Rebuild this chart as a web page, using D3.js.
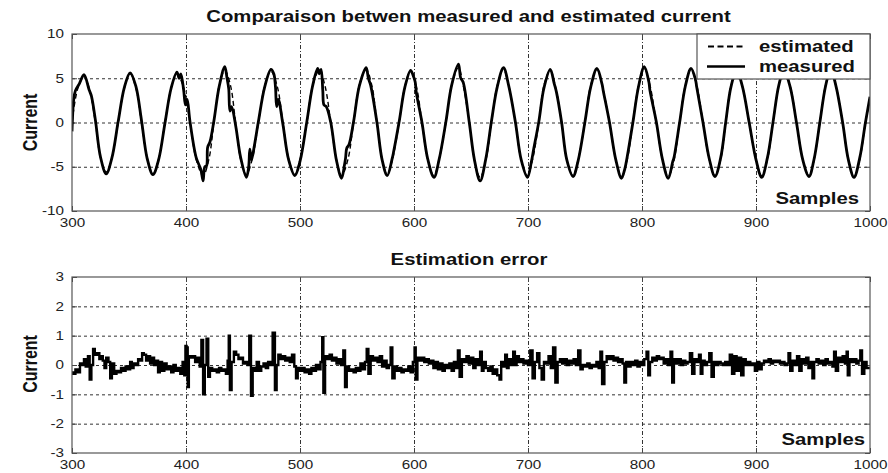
<!DOCTYPE html>
<html><head><meta charset="utf-8">
<script src="https://cdn.jsdelivr.net/npm/d3@7"></script>
<style>body{margin:0;background:#fff}svg{display:block}</style>
</head><body><svg id="c" width="888" height="473"></svg>
<script>
// ---------- DATA ----------
const xTicks = [300, 400, 500, 600, 700, 800, 900, 1000];
const yTicksTop = [-10, -5, 0, 5, 10];
const yTicksBottom = [-3, -2, -1, 0, 1, 2, 3];
const titleTop = "Comparaison betwen measured and estimated current";
const titleBottom = "Estimation error";
const yLabel = "Current";
const xLabel = "Samples";
const legendLabels = ["estimated", "measured"];

// [sample, current]
const estimated = [[300,0.0],[305,3.8],[310.5,5.2],[315,3.9],[320.5,0],[325,-4.0],[330,-5.6],[335,-4.0],[340.5,0],[346,3.9],[351,5.5],[356,3.9],[361,0],[366,-4.0],[371,-5.8],[376,-4.1],[381.5,0],[387,3.9],[392,5.5],[398,3.9],[403.5,0],[409,-4.2],[415,-6.0],[420,-4.2],[424.5,0],[429,4.1],[434,5.9],[439,4.2],[443.5,0],[448,-4.2],[453,-5.9],[458,-4.2],[463.5,0],[469,4.1],[474.5,5.8],[480,4.1],[485,0],[490,-4.1],[495.5,-5.9],[500,-4.2],[506,0],[511,4.1],[517,5.9],[522,4.1],[527,0],[532,-4.2],[536.5,-6.0],[542,-4.2],[547,0],[552,4.2],[558,6.0],[563,4.2],[567.5,0],[572,-4.1],[576.5,-5.9],[581,-4.2],[587,0],[592,4.1],[597,5.8],[602,4.1],[607,0],[612,-4.2],[617.5,-6.0],[622,-4.2],[628,0],[633,4.2],[639,6.2],[643,4.3],[648.5,0],[653,-4.3],[658,-6.2],[663,-4.3],[668,0],[673,4.2],[678.5,6.0],[683,4.2],[689,0],[694,-4.2],[699.5,-6.0],[704,-4.2],[709.5,0],[714,4.2],[719.5,5.9],[724,4.1],[729.5,0],[734,-4.2],[739.5,-6.0],[744,-4.2],[750,0],[755,4.2],[760.5,6.0],[765,4.2],[771.5,0],[777,-4.2],[782,-6.1],[787,-4.2],[792,0],[797,4.2],[802,6.1],[807,4.2],[812.5,0],[818,-4.2],[823,-6.1],[828,-4.3],[833,0],[838,4.2],[843,6.0],[848,4.2],[853.5,0],[859,-4.2],[864,-6.0],[869,-4.2],[873.5,0],[878,4.1],[883,5.8],[888,4.1],[894,0],[900,-4.2],[905,-6.0],[910,-4.2],[915,0],[920,4.2],[924.5,5.9],[930,4.1],[935.5,0],[941,-4.2],[946.5,-6.0],[951,-4.2],[956,0],[961,4.2],[965.5,5.9],[970,4.2],[976,0],[981,-4.2],[986,-6.1],[991,-4.2],[996,0],[1000,2.6]];

const measured = [[300,-1.0],[301.5,2.6],[303,3.6],[306.5,4.4],[310.5,5.4],[315,3.7],[317,3.0],[320.5,0.3],[325,-3.9],[330,-5.8],[335,-4.0],[340.5,0.1],[346,4.0],[351,5.6],[356,4.1],[361,0.2],[366,-4.1],[371,-5.9],[376,-4.2],[381.5,-0.1],[387,3.9],[392,5.7],[394,5.0],[395.5,5.5],[398,3.6],[399.5,2.0],[401,2.6],[403.5,0.1],[409,-4.0],[413,-5.3],[415,-6.6],[416.5,-5.0],[418,-4.9],[419,-2.8],[421,-2.2],[424.5,0.2],[429,4.0],[434,6.3],[436,5.0],[437.5,3.8],[438.5,1.3],[440,1.8],[443.5,-0.3],[448,-4.0],[453,-6.2],[455,-5.0],[456,-3.0],[457.5,-4.2],[460,-2.6],[463.5,0.1],[469,4.0],[474.5,6.0],[477,5.5],[478.5,4.0],[479.5,1.8],[481,2.6],[485,-0.2],[490,-4.2],[495.5,-6.0],[500,-4.4],[506,0.1],[511,4.1],[515.5,6.1],[517,5.5],[518.5,6.0],[520,3.6],[521,2.0],[523,1.8],[527,0.0],[532,-4.3],[536.5,-6.3],[539,-4.8],[540,-4.0],[541,-2.9],[543,-2.5],[547,0.1],[552,4.1],[558,6.2],[560,5.0],[562,4.2],[567.5,0.0],[572,-4.2],[576.5,-6.0],[581,-4.0],[582,-3.4],[587,0.1],[592,4.0],[597,5.9],[599,5.4],[601,4.6],[602,3.4],[607,0.0],[612,-4.1],[617.5,-6.2],[622,-4.2],[628,0.1],[633,4.2],[639,6.6],[641,5.0],[643,4.6],[648.5,0.0],[653,-4.2],[658,-6.6],[663,-4.1],[668,0.2],[673,4.0],[678.5,6.2],[683,4.2],[689,0.0],[694,-4.2],[699.5,-6.2],[703,-4.4],[705,-3.0],[709.5,0.1],[714,3.9],[719.5,6.0],[723,4.4],[725,3.4],[729.5,0.0],[734,-4.2],[739.5,-6.1],[744,-4.3],[750,0.1],[755,4.0],[760.5,6.1],[765,4.3],[766,3.6],[771.5,0.0],[777,-4.2],[782,-6.3],[785,-5.2],[787,-3.9],[792,0.0],[797,4.1],[802,6.3],[806,4.6],[807,3.6],[812.5,0.1],[818,-4.2],[823,-6.3],[827,-4.4],[828,-4.0],[833,0.0],[838,4.1],[843,6.1],[847,4.8],[848,4.0],[853.5,0.0],[859,-4.1],[864,-6.1],[869,-4.0],[873.5,0.1],[878,4.0],[883,5.9],[888,4.1],[894,0.0],[900,-4.2],[905,-6.2],[910,-4.0],[915,0.1],[920,4.2],[924.5,5.9],[930,4.0],[935.5,0.0],[941,-4.2],[946.5,-6.1],[951,-4.1],[956,0.0],[961,4.1],[965.5,6.0],[970,4.2],[976,0.0],[981,-4.2],[986,-6.2],[991,-4.0],[996,0.0],[1000,2.9]];

const estimationError = [[300,-0.25],[302,-0.3],[304,-0.15],[306,-0.25],[308,0.05],[310,0.0],[311,0.2],[313,-0.05],[315,0.3],[316,-0.5],[318,0.0],[319,0.55],[321,0.35],[323,0.4],[325,0.2],[326,0.3],[328,0.15],[329,-0.1],[331,0.25],[333,0.1],[334,-0.45],[336,0.05],[338,-0.3],[340,-0.2],[342,-0.25],[344,-0.1],[346,-0.2],[348,-0.05],[350,-0.15],[352,0.1],[353,-0.1],[355,0.05],[357,0.0],[359,0.2],[361,0.15],[362,0.4],[364,0.35],[366,0.15],[368,0.3],[369,0.05],[371,0.25],[373,0.0],[375,0.15],[376,-0.25],[378,0.1],[380,-0.2],[382,0.05],[384,-0.15],[386,-0.05],[388,-0.25],[390,0.0],[392,-0.2],[394,-0.1],[396,-0.3],[398,0.1],[399,-0.35],[400,0.65],[401,0.6],[402,-0.75],[403,0.3],[405,0.25],[407,0.3],[409,0.1],[411,0.25],[413,-0.05],[414,0.85],[416,-1.0],[417,0.0],[419,0.9],[420,-0.4],[422,-0.1],[424,-0.2],[426,-0.15],[428,-0.25],[430,-0.1],[432,-0.2],[434,-0.15],[436,-0.3],[437,0.15],[438,1.0],[439,-0.85],[441,0.1],[443,0.45],[445,0.35],[447,0.2],[449,0.25],[451,0.05],[453,0.1],[455,0.0],[456,1.0],[458,-1.05],[459,-0.1],[461,-0.2],[463,0.1],[465,-0.2],[467,-0.05],[469,0.05],[471,-0.1],[473,0.1],[475,0.0],[477,1.1],[479,-0.85],[480,0.0],[482,0.35],[484,0.2],[486,0.3],[488,0.15],[490,0.25],[492,0.1],[494,0.35],[496,-0.05],[497,-0.45],[499,-0.1],[501,-0.2],[503,-0.1],[505,-0.25],[507,-0.15],[509,-0.3],[511,-0.1],[513,-0.2],[515,0.0],[517,-0.15],[519,0.1],[520,0.95],[521,-0.95],[523,0.3],[525,0.2],[527,0.35],[529,0.15],[531,0.25],[533,0.05],[535,0.2],[537,0.0],[539,0.5],[540,-0.75],[542,-0.05],[544,-0.2],[546,-0.15],[548,-0.25],[550,-0.1],[552,-0.2],[554,0.05],[556,-0.15],[558,0.1],[559,0.55],[561,-0.3],[563,0.3],[565,0.15],[567,0.25],[569,0.1],[571,0.3],[573,-0.05],[575,0.15],[577,-0.1],[579,0.0],[580,0.6],[582,-0.45],[584,-0.05],[586,-0.2],[588,-0.1],[590,-0.25],[592,-0.15],[594,-0.2],[596,-0.05],[598,-0.25],[600,0.1],[601,0.6],[602,-0.5],[604,0.25],[606,0.15],[608,0.25],[610,0.1],[612,0.2],[614,0.05],[616,0.15],[618,-0.1],[620,0.1],[622,-0.15],[624,0.05],[626,-0.2],[628,0.0],[630,-0.1],[632,0.05],[634,-0.2],[636,0.1],[638,-0.1],[639,0.5],[641,-0.4],[643,0.2],[645,0.1],[647,0.3],[649,0.05],[651,0.25],[653,-0.1],[655,0.2],[657,0.0],[659,0.45],[660,-0.2],[662,0.1],[664,-0.1],[666,-0.2],[668,-0.05],[670,-0.3],[672,-0.15],[674,-0.35],[676,-0.5],[677,0.1],[679,-0.05],[681,0.35],[682,-0.1],[684,0.2],[686,0.0],[688,0.45],[689,0.0],[691,0.3],[693,0.1],[695,0.2],[697,0.05],[699,0.15],[701,0.0],[703,0.5],[705,-0.45],[707,0.1],[709,0.4],[711,-0.1],[713,-0.5],[715,0.1],[717,0.05],[719,0.3],[721,-0.1],[723,0.6],[725,-0.6],[727,0.1],[729,0.2],[731,0.05],[733,0.2],[735,0.0],[737,0.15],[739,0.05],[741,0.2],[743,0.0],[745,0.5],[747,-0.15],[749,0.0],[751,-0.05],[753,0.05],[755,-0.1],[757,0.0],[759,-0.05],[761,0.1],[763,-0.1],[764,0.45],[766,-0.65],[768,0.1],[770,0.3],[772,0.2],[774,0.3],[776,0.15],[778,0.25],[780,0.1],[782,0.2],[784,0.05],[785,-0.6],[787,0.1],[789,-0.05],[791,0.1],[793,0.0],[795,0.15],[797,-0.05],[799,0.1],[801,0.0],[803,0.2],[805,0.45],[806,-0.35],[808,0.1],[810,0.25],[812,0.15],[814,0.3],[816,0.2],[818,0.25],[820,0.05],[822,0.2],[824,0.0],[826,0.45],[827,-0.6],[829,0.2],[831,0.05],[833,0.2],[835,0.0],[837,0.15],[839,0.05],[841,0.1],[843,0.4],[845,-0.3],[847,0.2],[849,0.1],[851,0.35],[852,-0.3],[854,0.15],[856,0.0],[858,0.1],[860,0.4],[862,-0.4],[864,0.1],[866,0.0],[868,0.1],[870,0.05],[872,0.0],[874,0.1],[876,0.0],[878,0.35],[880,-0.3],[882,0.3],[884,-0.2],[886,0.25],[888,-0.35],[890,0.2],[892,0.0],[894,0.1],[896,0.0],[898,0.05],[900,-0.2],[902,0.1],[904,-0.15],[906,0.05],[908,0.15],[910,0.1],[912,0.2],[914,0.05],[916,0.15],[918,0.1],[920,0.15],[922,0.05],[924,0.1],[926,0.0],[928,0.05],[929,0.4],[931,-0.2],[933,0.15],[935,0.0],[937,0.3],[939,-0.2],[941,0.2],[943,0.05],[945,0.25],[947,-0.1],[949,0.1],[950,-0.45],[952,0.1],[954,0.2],[956,0.05],[958,0.15],[960,0.0],[962,0.2],[964,0.05],[966,0.1],[968,-0.05],[969,0.45],[971,-0.2],[973,0.25],[975,0.1],[977,0.3],[979,0.05],[980,0.45],[981,-0.35],[983,0.2],[985,0.1],[987,0.2],[989,0.05],[991,0.15],[992,0.5],[994,-0.3],[996,0.1],[998,-0.1],[1000,-0.1]];

// ---------- DRAWING ----------
const svg = d3.select("#c");
const SX = 1.27; // horizontal stretch of the original picture's text
const FONT = "'Liberation Sans', Arial, Helvetica, sans-serif";
const L = 72, R = 870;
const x = d3.scaleLinear().domain([300, 1000]).range([L, R]);
const yTop = d3.scaleLinear().domain([-10, 10]).range([211, 34]);
const yBot = d3.scaleLinear().domain([-3, 3]).range([453, 277]);
const fmt = d => String(d); // plain hyphen minus, as in the original

svg.append("rect").attr("width", 888).attr("height", 473).attr("fill", "#fff");

function label(str, tx, ty, size, weight, anchor, rot) {
  return svg.append("text")
    .attr("transform", `translate(${tx},${ty}) scale(${SX},1)` + (rot ? ` rotate(${rot})` : ""))
    .attr("text-anchor", anchor).attr("font-size", size).attr("font-weight", weight)
    .attr("font-family", FONT).attr("fill", "#111").text(str);
}

function panel(y, yTicks, id) {
  const [yb, yt] = y.range();
  const W = R - L;
  const g = svg.append("g");
  g.append("clipPath").attr("id", id).append("rect")
    .attr("x", L).attr("y", yt).attr("width", W).attr("height", yb - yt);

  // horizontal grid
  const hg = g.append("g").attr("transform", `translate(${L},0)`)
    .call(d3.axisLeft(y).tickValues(yTicks.slice(1, -1)).tickSize(-W).tickFormat(""));
  hg.select(".domain").remove();
  hg.selectAll("line").attr("stroke", "#333").attr("stroke-dasharray", "3,3").attr("stroke-width", 1);
  // vertical grid
  const vg = g.append("g").attr("transform", `translate(0,${yb})`)
    .call(d3.axisBottom(x).tickValues(xTicks.slice(1, -1)).tickSize(-(yb - yt)).tickFormat(""));
  vg.select(".domain").remove();
  vg.selectAll("line").attr("stroke", "#333").attr("stroke-dasharray", "4,2,1,2").attr("stroke-width", 1);

  // axes with inward ticks and labels
  const ax = g.append("g").attr("transform", `translate(${L},0)`)
    .call(d3.axisLeft(y).tickValues(yTicks).tickSizeInner(-5).tickSizeOuter(0).tickPadding(8).tickFormat(fmt));
  const bx = g.append("g").attr("transform", `translate(0,${yb})`)
    .call(d3.axisBottom(x).tickValues(xTicks).tickSizeInner(-5).tickSizeOuter(0).tickPadding(7).tickFormat(fmt));
  const rx = g.append("g").attr("transform", `translate(${R},0)`)
    .call(d3.axisRight(y).tickValues(yTicks).tickSizeInner(-5).tickSizeOuter(0).tickFormat(""));
  const tx = g.append("g").attr("transform", `translate(0,${yt})`)
    .call(d3.axisTop(x).tickValues(xTicks).tickSizeInner(-5).tickSizeOuter(0).tickFormat(""));
  [ax, bx, rx, tx].forEach(a => {
    a.select(".domain").remove();
    a.selectAll("line").attr("stroke", "#444");
  });
  ax.selectAll("text").attr("font-family", FONT).attr("font-size", 12).attr("fill", "#222")
    .attr("x", -8 / SX).attr("transform", `scale(${SX},1)`);
  bx.selectAll("text").attr("font-family", FONT).attr("font-size", 12).attr("fill", "#222")
    .attr("transform", `scale(${SX},1)`);
  return g;
}

function box(y) {
  const [yb, yt] = y.range();
  svg.append("rect").attr("x", L).attr("y", yt).attr("width", R - L).attr("height", yb - yt)
    .attr("fill", "none").attr("stroke", "#555").attr("stroke-width", 1.2);
}

// ---- top panel ----
const gTop = panel(yTop, yTicksTop, "clipTop");
const lineTop = d3.line().x(d => x(d[0])).y(d => yTop(d[1])).curve(d3.curveCatmullRom.alpha(0.5));
gTop.append("path").datum(measured).attr("d", lineTop).attr("clip-path", "url(#clipTop)")
  .attr("fill", "none").attr("stroke", "#000").attr("stroke-width", 2.8).attr("stroke-linejoin", "round");
gTop.append("path").datum(estimated).attr("d", lineTop).attr("clip-path", "url(#clipTop)")
  .attr("fill", "none").attr("stroke", "#000").attr("stroke-width", 1.4).attr("stroke-dasharray", "5,3");
box(yTop);

// legend
const lg = svg.append("g");
lg.append("rect").attr("x", 697).attr("y", 34).attr("width", 173).attr("height", 45)
  .attr("fill", "#fff").attr("stroke", "#555").attr("stroke-width", 1.2);
lg.append("line").attr("x1", 708).attr("x2", 746).attr("y1", 46.5).attr("y2", 46.5)
  .attr("stroke", "#000").attr("stroke-width", 2).attr("stroke-dasharray", "6,3.5");
lg.append("line").attr("x1", 707).attr("x2", 745).attr("y1", 66.5).attr("y2", 66.5)
  .attr("stroke", "#000").attr("stroke-width", 2.5);
label(legendLabels[0], 759, 52, 16, "bold", "start");
label(legendLabels[1], 759, 71.5, 16, "bold", "start");

// ---- bottom panel ----
const gBot = panel(yBot, yTicksBottom, "clipBot");
const lineBot = d3.line().x(d => x(d[0])).y(d => yBot(d[1])).curve(d3.curveStep);
gBot.append("path").datum(estimationError).attr("d", lineBot).attr("clip-path", "url(#clipBot)")
  .attr("fill", "none").attr("stroke", "#000").attr("stroke-width", 2.4).attr("stroke-linejoin", "miter");
box(yBot);

// ---- texts ----
label(titleTop, 468.5, 22, 16, "bold", "middle");
label(titleBottom, 469, 265, 16, "bold", "middle");
label(xLabel, 859, 204, 16, "bold", "end");
label(xLabel, 865, 445, 16, "bold", "end");
label(yLabel, 36.5, 122.5, 16, "bold", "middle", -90);
label(yLabel, 36.5, 364, 16, "bold", "middle", -90);
</script>
</body></html>
